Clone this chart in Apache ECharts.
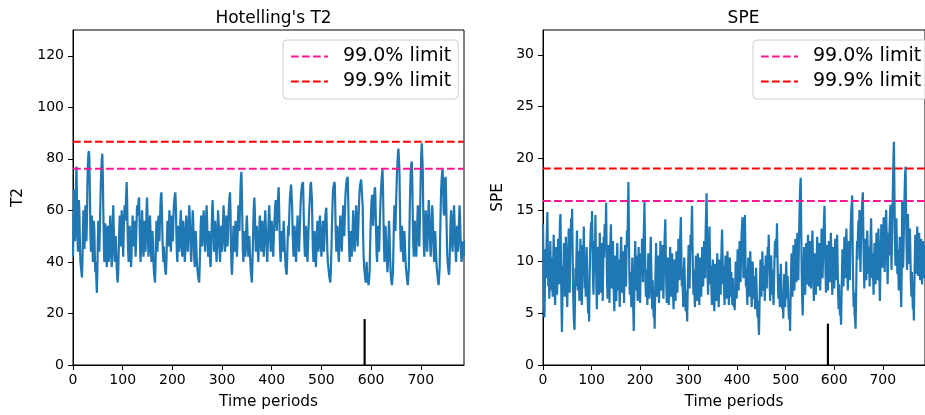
<!DOCTYPE html>
<html>
<head>
<meta charset="utf-8">
<script src="https://cdn.jsdelivr.net/npm/echarts@6/dist/echarts.min.js"></script>
<style>
html,body{margin:0;padding:0;background:#fff;}
#chart{width:925px;height:415px;}
</style>
</head>
<body>
<div id="chart"></div>
<script>
// ---- data ----
const t2Title = "Hotelling's T2";
const speTitle = "SPE";
const xName = "Time periods";
const t2Name = "T2";
const speName = "SPE";
const limitNames = ["99.0% limit", "99.9% limit"];
const t2Limits = [76.2, 86.6];
const speLimits = [15.85, 19.0];
const faultTime = 587;
const faultMarkT2 = 17.8;
const faultMarkSPE = 4.0;
const timeTicks = [0, 100, 200, 300, 400, 500, 600, 700];
const t2Ticks = [0, 20, 40, 60, 80, 100, 120];
const speTicks = [0, 5, 10, 15, 20, 25, 30];

const t2Values = [
42,55,68,60,48,52,70,77,65,50,
44,52,64,58,46,40,38,36,34,40,
52,60,54,45,50,62,56,48,55,70,
78,82,83,80,66,52,44,50,58,48,
40,46,56,52,42,36,40,33,28,36,
48,56,50,44,52,62,70,76,80,82,
74,60,48,40,46,55,50,42,38,46,
54,48,40,44,52,58,50,42,38,44,
56,62,54,46,40,44,50,44,38,34,
32,36,44,52,58,54,46,50,60,56,
48,42,50,58,62,56,60,66,71,64,
52,44,40,46,54,50,42,38,44,52,
58,52,46,50,56,48,42,48,56,62,
58,60,64,65,56,46,40,44,52,60,
54,46,42,50,56,50,44,52,60,65,
58,48,42,46,54,58,52,44,40,46,
52,48,40,36,34,32,38,48,56,50,
44,50,58,54,48,56,62,66,67,60,
50,44,40,46,42,38,36,35,40,48,
56,52,46,52,60,56,48,44,50,58,
54,48,56,62,64,66,67,62,52,44,
40,46,54,50,44,48,56,60,54,46,
42,48,56,52,46,40,44,52,58,54,
48,44,50,56,62,58,50,44,40,46,
54,60,56,48,42,38,44,52,48,42,
38,36,34,33,32,38,46,54,58,52,
46,50,56,60,54,48,44,50,58,62,
56,48,42,46,52,48,40,38,44,52,
60,64,58,50,44,48,56,52,44,40,
46,54,60,56,50,44,40,46,54,50,
44,48,56,62,58,50,44,48,54,58,
52,46,50,58,62,65,67,60,46,38,
35,40,48,54,50,44,48,56,52,46,
42,48,56,62,58,52,60,68,73,75,
66,54,44,40,46,52,48,42,46,54,
58,52,46,42,46,50,44,40,36,34,
32,38,46,56,62,65,60,50,44,48,
54,50,44,40,46,52,58,54,48,44,
50,56,52,46,42,48,56,60,54,48,
44,40,46,52,58,62,56,48,44,50,
56,52,46,42,48,54,58,62,64,60,
52,56,62,66,69,60,50,44,40,46,
52,48,44,50,56,52,46,42,38,36,
35,40,48,54,50,56,62,66,68,70,
70,62,52,46,42,48,54,50,44,40,
46,52,58,54,48,44,50,56,62,66,
68,70,70,71,62,52,46,42,48,54,
50,44,40,46,52,58,62,66,70,71,
71,64,52,44,40,46,52,48,42,38,
44,52,56,50,44,48,54,58,52,46,
42,46,52,56,50,44,48,54,58,60,
61,52,44,40,38,36,34,33,32,36,
44,52,60,66,69,70,71,70,60,50,
44,48,54,50,44,40,46,52,58,54,
48,44,50,58,62,56,50,56,64,68,
70,72,72,73,64,52,44,40,46,52,
48,42,46,54,60,56,48,44,50,56,
62,58,50,46,52,58,64,68,70,71,
72,72,72,62,50,42,38,36,34,32,
34,40,36,33,32,31,31,36,46,54,
60,64,66,62,54,58,64,68,69,62,
52,44,40,46,54,50,44,50,58,64,
68,72,74,76,68,56,46,40,46,54,
50,44,40,36,40,48,56,52,44,38,
34,32,31,31,36,46,56,62,58,52,
60,68,74,78,82,84,84,76,62,50,
44,48,54,50,44,40,46,52,48,42,
38,36,34,32,31,31,38,50,62,70,
76,78,79,70,56,46,42,48,56,52,
46,42,48,56,62,58,50,46,54,64,
74,82,86,86,76,60,48,42,46,54,
60,56,48,44,50,58,64,60,52,46,
42,48,56,62,58,50,44,40,46,52,
48,42,38,36,34,32,31,31,38,50,
60,68,72,75,76,70,60,58,66,72,
73,66,54,44,40,38,36,35,40,48,
56,60,56,48,44,50,58,62,56,48,
44,40,46,54,50,44,48,56,62,58,
50,44,40,42,48,44,42,48
];

const speValues = [
13.6,9.5,6.2,4.6,8.0,11.2,8.4,10.6,13.0,14.8,
11.0,7.6,9.2,6.4,8.8,12.0,9.6,7.2,10.4,8.2,
6.6,9.8,12.6,10.2,7.4,5.8,8.6,11.4,9.0,6.8,
9.4,12.2,10.0,7.8,11.6,14.0,14.6,10.2,6.0,3.2,
6.4,9.6,8.0,11.8,9.2,6.6,8.4,12.4,10.6,7.2,
5.6,8.2,11.0,13.2,9.8,7.0,10.4,12.8,14.2,11.6,
15.1,11.2,7.4,5.2,4.0,3.4,6.8,9.4,7.6,10.8,
13.0,9.8,7.2,11.0,8.6,6.2,9.0,12.2,10.4,7.8,
5.8,8.8,11.6,9.2,13.4,10.6,7.4,9.8,6.6,8.2,
11.4,9.0,6.4,5.0,7.2,4.2,8.0,10.8,12.6,13.8,
11.2,14.9,11.8,8.4,6.8,9.6,12.0,10.2,14.5,10.8,
7.6,5.4,8.8,11.4,9.4,6.8,10.0,12.8,9.6,7.0,
8.6,11.8,9.2,6.2,9.4,12.4,10.4,13.6,11.0,12.6,
15.7,11.4,8.0,6.4,9.2,11.6,8.4,6.0,10.2,12.2,
13.6,10.0,7.4,9.8,12.0,8.8,6.6,5.2,8.4,10.6,
8.0,6.2,9.4,11.8,9.0,7.2,10.2,8.0,5.6,7.8,
10.6,12.4,9.6,7.0,8.8,11.0,8.2,6.0,9.2,11.6,
9.4,7.6,10.8,13.0,11.4,14.8,17.7,12.6,8.4,6.8,
9.0,7.4,5.6,8.2,10.4,7.0,5.2,3.3,6.6,9.8,
12.0,9.4,7.2,10.6,8.4,6.2,8.8,11.4,9.6,7.4,
6.0,8.6,10.8,9.0,12.2,10.4,8.0,11.6,13.4,15.8,
12.0,8.4,6.6,9.2,7.4,5.8,8.6,10.8,8.8,6.4,
7.8,10.2,12.4,9.6,7.0,5.4,8.2,6.2,4.6,5.8,
3.5,6.8,9.4,11.8,9.0,6.6,8.4,10.6,8.2,6.0,
7.6,10.0,12.0,9.4,7.2,9.8,11.6,8.6,6.4,8.8,
11.2,12.8,14.1,10.6,7.8,6.0,8.4,10.4,8.0,5.8,
7.4,9.6,11.4,8.8,6.6,8.2,10.8,9.0,6.8,5.4,
7.8,10.2,8.4,6.2,8.6,11.0,9.2,7.0,9.6,12.2,
10.0,8.2,11.4,12.8,14.3,10.8,7.6,9.4,7.2,5.6,
8.0,10.4,8.6,6.4,5.2,7.2,5.8,4.2,6.8,9.4,
11.6,9.0,7.4,10.2,12.6,11.0,13.2,15.4,11.8,8.6,
6.8,9.2,7.0,5.6,8.2,10.6,8.4,6.2,8.0,10.8,
9.2,7.2,5.8,8.4,10.4,8.6,6.6,9.0,11.4,9.8,
7.6,9.6,12.0,10.2,8.4,12.8,14.6,16.6,12.4,8.8,
6.8,9.4,11.2,13.4,10.6,7.8,9.6,7.2,5.8,8.0,
10.2,8.2,6.4,5.2,7.6,9.8,8.0,6.2,8.6,10.8,
9.0,7.0,5.6,8.4,10.2,8.2,6.8,9.4,11.6,13.1,
10.4,7.8,9.6,7.4,5.8,8.2,10.6,8.8,6.4,8.6,
11.0,9.2,7.2,5.8,8.0,10.4,8.4,6.6,9.0,7.0,
5.8,8.4,6.6,5.6,6.8,5.3,7.6,10.0,8.2,6.4,
8.8,11.2,9.4,7.2,9.8,12.0,10.0,8.0,10.6,12.6,
13.4,14.3,10.8,8.4,11.0,12.8,14.5,10.6,7.6,9.4,
7.2,5.8,8.2,10.4,8.6,6.6,8.8,11.0,9.2,7.0,
5.6,7.8,10.0,8.2,6.4,8.6,6.8,5.4,7.2,9.4,
7.6,5.8,4.6,6.2,4.0,2.9,5.6,8.0,10.2,8.4,
6.6,8.8,11.0,9.0,7.2,9.6,8.0,6.2,8.4,10.6,
9.0,7.4,9.8,11.4,10.0,12.6,10.2,7.8,6.2,8.4,
10.6,8.8,6.8,9.2,7.4,5.8,8.0,10.4,12.0,10.4,
12.2,11.0,13.7,10.6,8.0,6.4,8.8,7.0,5.6,7.6,
9.8,8.0,6.2,5.4,7.0,4.5,6.6,8.8,7.2,5.6,
7.8,10.0,8.2,6.4,8.6,7.0,5.2,4.4,5.8,3.3,
6.2,8.6,10.8,8.8,6.6,9.0,11.6,9.4,7.2,9.8,
12.2,10.0,8.0,10.6,12.8,10.4,8.2,11.0,13.6,15.8,
17.4,18.1,13.2,9.0,6.4,4.8,7.2,9.6,11.4,9.0,
6.8,9.2,11.8,10.0,7.8,10.4,12.6,10.2,7.6,9.8,
12.0,9.6,7.4,9.0,11.2,13.0,10.6,8.0,6.2,8.6,
10.8,9.0,6.8,8.4,10.6,12.4,10.2,7.6,9.4,11.8,
9.6,7.2,8.8,11.0,13.2,10.8,8.4,10.4,12.6,14.2,
15.4,12.0,9.2,7.0,9.4,11.6,9.0,7.2,9.8,12.0,
10.2,8.0,10.6,12.8,11.0,8.6,6.8,9.0,11.4,9.4,
7.4,9.8,12.2,10.4,8.2,10.8,12.6,9.6,7.0,5.4,
7.8,6.0,4.8,5.6,3.9,6.4,9.0,11.2,9.4,7.6,
10.0,12.4,10.6,8.4,11.0,13.2,11.2,9.0,7.2,9.6,
12.0,10.0,8.2,10.8,13.4,14.8,15.6,16.4,11.6,7.8,
5.6,7.0,5.0,4.4,3.5,6.6,9.8,12.0,10.2,12.8,
14.0,12.6,15.0,11.4,9.0,11.8,13.6,15.2,16.0,16.7,
12.4,9.6,7.4,10.0,12.2,10.4,8.2,10.8,13.0,11.2,
8.8,11.4,9.6,7.6,10.2,12.6,14.2,11.0,8.4,10.8,
9.0,6.8,9.4,11.8,10.0,7.8,10.4,12.8,10.6,8.2,
11.0,13.2,10.8,8.6,6.2,8.8,11.4,13.6,11.8,9.4,
11.6,13.0,14.3,11.4,9.0,12.2,13.8,15.0,12.6,10.2,
7.8,10.4,12.8,10.6,13.2,14.6,15.5,12.0,9.2,11.8,
14.4,17.6,20.0,21.6,17.0,12.4,9.6,12.0,14.2,11.6,
8.8,11.2,9.0,7.2,9.8,12.4,9.6,7.4,5.6,9.0,
15.9,12.2,9.4,11.8,14.4,16.6,18.4,19.2,15.0,11.6,
9.2,12.0,14.6,12.2,9.8,12.6,13.2,10.4,8.0,6.6,
9.0,7.2,5.4,6.8,4.3,7.4,10.2,12.6,10.8,8.8,
11.2,13.4,11.0,8.6,10.8,12.8,10.4,8.2,10.6,12.2,
10.0,7.8,9.8,12.0,10.6,8.4,10.2,11.6
];

// ---- chart ----
const FONT = "DejaVu Sans";
const blue = "#1f77b4";
const limitColors = ["#ff1493", "#ff0000"];
const xMax = 787;

const toXY = arr => arr.map((v, i) => [i, v]);

function xAxisFor(gridIndex) {
  return {
    type: "value", gridIndex, min: 0, max: xMax, interval: 100,
    name: xName, nameLocation: "middle", nameGap: 30,
    nameTextStyle: {fontFamily: FONT, fontSize: 15.3, color: "#000"},
    axisLine: {show: true, lineStyle: {color: "#000", width: 1}},
    axisTick: {show: true, length: 5, inside: false, customValues: timeTicks, lineStyle: {color: "#000"}},
    axisLabel: {customValues: timeTicks, fontFamily: FONT, fontSize: 14, color: "#000", margin: 8},
    splitLine: {show: false}
  };
}
function yAxisFor(gridIndex, max, ticks, name, gap) {
  return {
    type: "value", gridIndex, min: 0, max: max,
    name: name, nameLocation: "middle", nameGap: gap,
    nameTextStyle: {fontFamily: FONT, fontSize: 15.3, color: "#000"},
    axisLine: {show: true, lineStyle: {color: "#000", width: 1}},
    axisTick: {show: true, length: 5, inside: false, customValues: ticks, lineStyle: {color: "#000"}},
    axisLabel: {customValues: ticks, fontFamily: FONT, fontSize: 14, color: "#000", margin: 9},
    splitLine: {show: false}
  };
}
function limitSeries(idx, name, val, color) {
  return {
    type: "line", name, xAxisIndex: idx, yAxisIndex: idx,
    data: [[0, val], [xMax, val]], symbol: "none", showSymbol: false, z: 5,
    lineStyle: {color, width: 2, type: [7.7, 3.3]},
    itemStyle: {color}, silent: true, animation: false
  };
}
function faultSeries(idx, h) {
  return {
    type: "line", name: "fault", xAxisIndex: idx, yAxisIndex: idx,
    data: [[faultTime, 0], [faultTime, h]], symbol: "none", z: 4,
    lineStyle: {color: "#000", width: 2.2}, silent: true, animation: false
  };
}
function legendFor(left) {
  return {
    data: limitNames, orient: "vertical", left: left, top: 40,
    padding: [7, 7, 8, 7], itemWidth: 37, itemHeight: 20, itemGap: 6,
    backgroundColor: "rgba(255,255,255,0.8)", borderColor: "#cccccc", borderWidth: 1, borderRadius: 4,
    itemStyle: {opacity: 0},
    lineStyle: {width: 2},
    textStyle: {fontFamily: FONT, fontSize: 19, color: "#000", padding: [0, 0, 0, 10]},
    selectedMode: false
  };
}

const chart = echarts.init(document.getElementById("chart"), null, {renderer: "canvas"});
chart.setOption({
  animation: false,
  backgroundColor: "#fff",
  title: [
    {text: t2Title, left: 268.5, top: 5, textAlign: "center", textStyle: {fontFamily: FONT, fontSize: 17, fontWeight: "normal", color: "#000"}},
    {text: speTitle, left: 738.5, top: 5, textAlign: "center", textStyle: {fontFamily: FONT, fontSize: 17, fontWeight: "normal", color: "#000"}}
  ],
  legend: [legendFor(283), legendFor(753)],
  grid: [
    {left: 73, right: 461, top: 30, bottom: 49, show: true, borderColor: "#000", borderWidth: 1, backgroundColor: "transparent"},
    {left: 543, right: -9, top: 30, bottom: 49, show: true, borderColor: "#000", borderWidth: 1, backgroundColor: "transparent"}
  ],
  xAxis: [xAxisFor(0), xAxisFor(1)],
  yAxis: [yAxisFor(0, 130, t2Ticks, t2Name, 47), yAxisFor(1, 32.4, speTicks, speName, 37)],
  series: [
    {type: "line", name: t2Name, xAxisIndex: 0, yAxisIndex: 0, data: toXY(t2Values), symbol: "none", z: 3,
     lineStyle: {color: blue, width: 2.2}, silent: true, animation: false},
    faultSeries(0, faultMarkT2),
    limitSeries(0, limitNames[0], t2Limits[0], limitColors[0]),
    limitSeries(0, limitNames[1], t2Limits[1], limitColors[1]),
    {type: "line", name: speName, xAxisIndex: 1, yAxisIndex: 1, data: toXY(speValues), symbol: "none", z: 3,
     lineStyle: {color: blue, width: 2.2}, silent: true, animation: false},
    faultSeries(1, faultMarkSPE),
    limitSeries(1, limitNames[0], speLimits[0], limitColors[0]),
    limitSeries(1, limitNames[1], speLimits[1], limitColors[1])
  ]
});
</script>
</body>
</html>
